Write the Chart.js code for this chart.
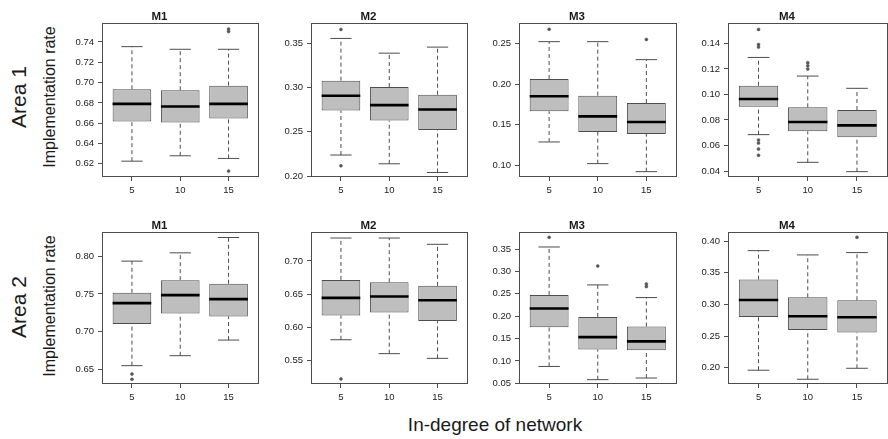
<!DOCTYPE html>
<html>
<head>
<meta charset="utf-8">
<script src="https://cdn.jsdelivr.net/npm/chart.js@4.4.1/dist/chart.umd.min.js"></script>
<style>
  body { margin: 0; width: 888px; height: 439px; overflow: hidden; background: #fff; position: relative; font-family: "Liberation Sans", Arial, sans-serif; }
  canvas { position: absolute; }
  .lbl { position: absolute; white-space: nowrap; color: #1a1a1a; transform: translate(-50%, -50%); }
  .rot { transform: translate(-50%, -50%) rotate(-90deg); }
</style>
</head>
<body>
<div class="lbl rot" style="left:19px;top:97px;font-size:21px">Area 1</div>
<div class="lbl rot" style="left:19px;top:307px;font-size:21px">Area 2</div>
<div class="lbl rot" style="left:50px;top:97px;font-size:16px">Implementation rate</div>
<div class="lbl rot" style="left:50px;top:306px;font-size:16px">Implementation rate</div>
<div class="lbl" style="left:495px;top:425px;font-size:19px">In-degree of network</div>
<script>
const degrees = ["5", "10", "15"]
const methods = ["M1", "M2", "M3", "M4"]

// each box: [lower whisker, Q1, median, Q3, upper whisker], one per in-degree
const a1m1Stats = [[0.6226, 0.6616, 0.679, 0.6934, 0.7354], [0.6279, 0.6607, 0.6765, 0.6925, 0.7328], [0.6253, 0.6646, 0.679, 0.697, 0.7328]]
const a1m1Out = [[], [], [0.7527, 0.7503, 0.6128]]
const a1m1Ticks = [0.62, 0.64, 0.66, 0.68, 0.70, 0.72, 0.74]
const a1m1Range = [0.607, 0.7587]

const a1m2Stats = [[0.2238, 0.274, 0.2907, 0.3077, 0.3553], [0.2139, 0.2627, 0.2801, 0.3005, 0.3387], [0.2041, 0.2521, 0.2752, 0.2918, 0.3455]]
const a1m2Out = [[0.3655, 0.2117], [], []]
const a1m2Ticks = [0.20, 0.25, 0.30, 0.35]
const a1m2Range = [0.199, 0.3727]

const a1m3Stats = [[0.1288, 0.1666, 0.1851, 0.2065, 0.2525], [0.1021, 0.1411, 0.1604, 0.1859, 0.2525], [0.0922, 0.1387, 0.1535, 0.1769, 0.2303]]
const a1m3Out = [[0.2677], [], [0.2553]]
const a1m3Ticks = [0.10, 0.15, 0.20, 0.25]
const a1m3Range = [0.0856, 0.2755]

const a1m4Stats = [[0.0685, 0.0904, 0.0964, 0.1068, 0.129], [0.0468, 0.0711, 0.0784, 0.0899, 0.1144], [0.0395, 0.0664, 0.0758, 0.0878, 0.1048]]
const a1m4Out = [[0.151, 0.1392, 0.1371, 0.0643, 0.0619, 0.0572, 0.0523], [0.1249, 0.1225, 0.1199], []]
const a1m4Ticks = [0.04, 0.06, 0.08, 0.10, 0.12, 0.14]
const a1m4Range = [0.0353, 0.156]

const a2m1Stats = [[0.6549, 0.71, 0.7378, 0.7515, 0.7934], [0.6681, 0.7241, 0.7484, 0.7682, 0.8044], [0.6888, 0.7202, 0.7431, 0.7634, 0.8247]]
const a2m1Out = [[0.6438, 0.6368], [], []]
const a2m1Ticks = [0.65, 0.70, 0.75, 0.80]
const a2m1Range = [0.6306, 0.832]

const a2m2Stats = [[0.5811, 0.6177, 0.6443, 0.6714, 0.7346], [0.5601, 0.6223, 0.6463, 0.6679, 0.7346], [0.553, 0.6092, 0.6408, 0.6624, 0.7251]]
const a2m2Out = [[0.522], [], []]
const a2m2Ticks = [0.55, 0.60, 0.65, 0.70]
const a2m2Range = [0.5143, 0.7437]

const a2m3Stats = [[0.0877, 0.1754, 0.217, 0.2475, 0.3545], [0.0582, 0.1258, 0.1531, 0.1984, 0.2698], [0.0619, 0.1241, 0.1436, 0.1769, 0.2415]]
const a2m3Out = [[0.376], [0.3121], [0.272, 0.266]]
const a2m3Ticks = [0.05, 0.10, 0.15, 0.20, 0.25, 0.30, 0.35]
const a2m3Range = [0.0485, 0.388]

const a2m4Stats = [[0.1958, 0.2802, 0.3071, 0.3393, 0.3852], [0.1815, 0.2596, 0.2813, 0.3113, 0.3784], [0.1989, 0.2554, 0.2797, 0.3066, 0.3821]]
const a2m4Out = [[], [], [0.4063]]
const a2m4Ticks = [0.20, 0.25, 0.30, 0.35, 0.40]
const a2m4Range = [0.174, 0.4147]

// layout of the 2x4 grid (plot area positions)
const colLeft = [102, 311, 519, 728]
const colW = [159, 159, 160, 162]
const rowTop = [23, 232]
const rowH = [154, 152]
const axisW = 44
const titleH = 20
const xAxisH = 24

const FONT = "'Liberation Sans', Arial, sans-serif"
const DARK = "#4d4d4d"

const framePlugin = {
  id: "frame",
  afterDraw(chart) {
    const { ctx, chartArea: a } = chart
    ctx.save()
    ctx.strokeStyle = DARK
    ctx.lineWidth = 1
    ctx.strokeRect(Math.round(a.left) + 0.5, Math.round(a.top) + 0.5, Math.round(a.right - a.left) - 1, Math.round(a.bottom - a.top) - 1)
    ctx.restore()
  },
}

function makePanel(row, col, stats, outliers, yTicks, yRange) {
  const canvas = document.createElement("canvas")
  canvas.width = axisW + colW[col] + 2
  canvas.height = titleH + rowH[row] + xAxisH
  canvas.style.left = colLeft[col] - axisW + "px"
  canvas.style.top = rowTop[row] - titleH + "px"
  document.body.appendChild(canvas)

  const boxes = stats.map((s, i) => ({ x: i + 1, y: [s[1], s[3]] }))
  const medians = []
  const whiskers = []
  const caps = []
  stats.forEach((s, i) => {
    const x = i + 1
    medians.push({ x: x - 0.4, y: s[2] }, { x: x + 0.4, y: s[2] }, { x: x, y: null })
    whiskers.push({ x, y: s[0] }, { x, y: s[1] }, { x, y: null }, { x, y: s[3] }, { x, y: s[4] }, { x, y: null })
    caps.push({ x: x - 0.22, y: s[0] }, { x: x + 0.22, y: s[0] }, { x, y: null })
    caps.push({ x: x - 0.22, y: s[4] }, { x: x + 0.22, y: s[4] }, { x, y: null })
  })
  const points = []
  outliers.forEach((list, i) => list.forEach(v => points.push({ x: i + 1, y: v })))

  const lineBase = { type: "line", pointRadius: 0, spanGaps: false, tension: 0 }

  new Chart(canvas, {
    type: "bar",
    data: {
      datasets: [
        { ...lineBase, data: medians, borderColor: "#000", borderWidth: 2.6, order: 0 },
        { ...lineBase, showLine: false, data: points, pointRadius: 1.5, pointBackgroundColor: "#555", pointBorderColor: "#555", pointBorderWidth: 0.5, order: 1 },
        { ...lineBase, data: caps, borderColor: DARK, borderWidth: 1, order: 2 },
        { ...lineBase, data: whiskers, borderColor: DARK, borderWidth: 1, borderDash: [4, 3], order: 3 },
        {
          type: "bar",
          data: boxes,
          backgroundColor: "#bebebe",
          borderColor: DARK,
          borderWidth: 1,
          borderSkipped: false,
          categoryPercentage: 1,
          barPercentage: 0.8,
          order: 4,
        },
      ],
    },
    options: {
      responsive: false,
      animation: false,
      layout: { padding: { left: 0, right: 2, top: 0, bottom: 0 } },
      plugins: {
        legend: { display: false },
        tooltip: { enabled: false },
        title: {
          display: true,
          text: methods[col],
          color: "#1a1a1a",
          font: { family: FONT, size: 11.5, weight: "bold", lineHeight: 1 },
          padding: { top: 8, bottom: 0.5 },
        },
      },
      scales: {
        x: {
          type: "linear",
          min: 0.38,
          max: 3.62,
          offset: false,
          afterBuildTicks: s => { s.ticks = degrees.map((d, i) => ({ value: i + 1 })) },
          afterFit: s => { s.height = xAxisH },
          ticks: {
            autoSkip: false,
            maxRotation: 0,
            padding: 4,
            color: "#222",
            font: { family: FONT, size: 9.5 },
            callback: v => degrees[v - 1],
          },
          grid: { display: true, offset: false, drawOnChartArea: false, drawTicks: true, tickLength: 4, color: DARK },
          border: { display: false },
        },
        y: {
          type: "linear",
          min: yRange[0],
          max: yRange[1],
          beginAtZero: false,
          afterBuildTicks: s => { s.ticks = yTicks.map(v => ({ value: v })) },
          afterFit: s => { s.width = axisW },
          ticks: {
            autoSkip: false,
            padding: 4,
            color: "#222",
            font: { family: FONT, size: 9.5 },
            callback: v => v.toFixed(2),
          },
          grid: { display: true, drawOnChartArea: false, drawTicks: true, tickLength: 4, color: DARK },
          border: { display: false },
        },
      },
    },
    plugins: [framePlugin],
  })
}

makePanel(0, 0, a1m1Stats, a1m1Out, a1m1Ticks, a1m1Range)
makePanel(0, 1, a1m2Stats, a1m2Out, a1m2Ticks, a1m2Range)
makePanel(0, 2, a1m3Stats, a1m3Out, a1m3Ticks, a1m3Range)
makePanel(0, 3, a1m4Stats, a1m4Out, a1m4Ticks, a1m4Range)
makePanel(1, 0, a2m1Stats, a2m1Out, a2m1Ticks, a2m1Range)
makePanel(1, 1, a2m2Stats, a2m2Out, a2m2Ticks, a2m2Range)
makePanel(1, 2, a2m3Stats, a2m3Out, a2m3Ticks, a2m3Range)
makePanel(1, 3, a2m4Stats, a2m4Out, a2m4Ticks, a2m4Range)
</script>
</body>
</html>
